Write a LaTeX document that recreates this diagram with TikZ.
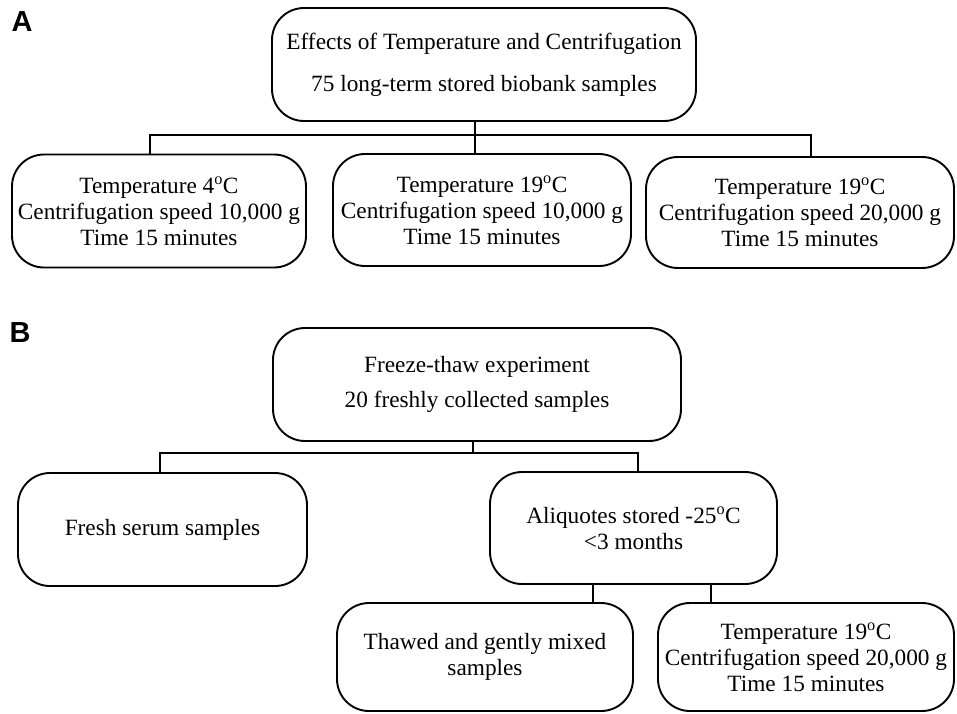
\documentclass[tikz,border=0pt]{standalone}
\usepackage{fontspec}
\setmainfont{Liberation Serif}
\newfontfamily\labfont{Liberation Sans}
\begin{document}
\begin{tikzpicture}[x=1pt,y=-1pt,
  box/.style={draw, line width=1.9pt, rounded corners=32pt, align=center, inner sep=0pt,
    font=\fontsize{23.3}{26}\selectfont},
  conn/.style={line width=1.9pt},
  panel/.style={font=\labfont\bfseries\fontsize{29}{30}\selectfont, inner sep=0pt}]
\useasboundingbox (0,0) rectangle (957,713);
% Panel A
\node[panel] (labA) at (22,22) {A};
\node[box, minimum width=424pt, minimum height=113pt] (tA) at (484,64.5)
  {Effects of Temperature and Centrifugation\\[16pt]75 long-term stored biobank samples};
\node[box, minimum width=294pt, minimum height=113pt] (a1) at (159,211)
  {Temperature 4\textsuperscript{o}C\\Centrifugation speed 10,000 g\\Time 15 minutes};
\node[box, minimum width=298pt, minimum height=112pt] (a2) at (482,210)
  {Temperature 19\textsuperscript{o}C\\Centrifugation speed 10,000 g\\Time 15 minutes};
\node[box, minimum width=308pt, minimum height=111pt] (a3) at (800,212.5)
  {Temperature 19\textsuperscript{o}C\\Centrifugation speed 20,000 g\\Time 15 minutes};
\coordinate (jA) at (475,135);
\coordinate (dA1) at (150,135);
\coordinate (dA3) at (811,135);
\draw[conn] (dA1 |- a1.north) -- (dA1) -- (dA3) -- (dA3 |- a3.north);
\draw[conn] (jA |- tA.south) -- (jA |- a2.north);
% Panel B
\node[panel] (labB) at (20,333) {B};
\node[box, minimum width=408pt, minimum height=113pt] (tB) at (477,384.5)
  {Freeze-thaw experiment\\[9pt]20 freshly collected samples};
\node[box, minimum width=289pt, minimum height=113pt] (fresh) at (162.5,529.5)
  {Fresh serum samples};
\node[box, minimum width=287pt, minimum height=112pt] (aliq) at (633.5,528)
  {Aliquotes stored -25\textsuperscript{o}C\\<3 months};
\node[box, minimum width=296pt, minimum height=108pt] (thaw) at (485,657)
  {Thawed and gently mixed\\samples};
\node[box, minimum width=296pt, minimum height=108pt] (temp) at (806,657)
  {Temperature 19\textsuperscript{o}C\\Centrifugation speed 20,000 g\\Time 15 minutes};
\coordinate (jB) at (473,453);
\coordinate (dB1) at (160,453);
\coordinate (dB2) at (638,453);
\draw[conn] (jB |- tB.south) -- (jB);
\draw[conn] (dB1 |- fresh.north) -- (dB1) -- (dB2) -- (dB2 |- aliq.north);
\coordinate (dC1) at (593,590);
\coordinate (dC2) at (711,590);
\draw[conn] (dC1 |- aliq.south) -- (dC1 |- thaw.north);
\draw[conn] (dC2 |- aliq.south) -- (dC2 |- temp.north);
\end{tikzpicture}
\end{document}
